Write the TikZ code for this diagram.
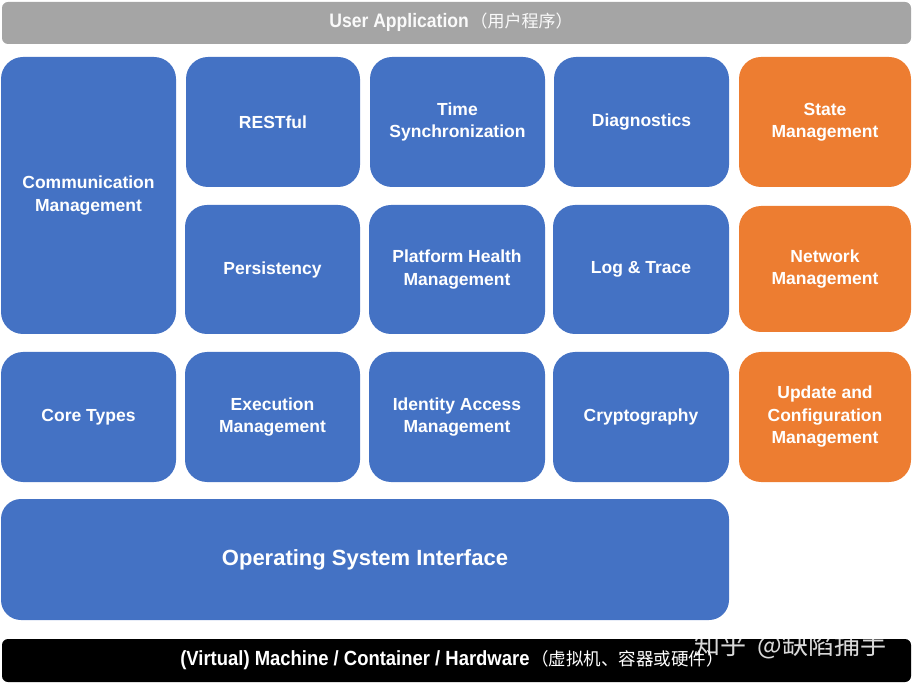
\documentclass[tikz,border=0pt]{standalone}
\usepackage{fontspec}
\setmainfont{Liberation Sans}
\newfontfamily\cjk{Noto Sans CJK SC}
\definecolor{abblue}{HTML}{4472C4}
\definecolor{aborange}{HTML}{ED7D31}
\definecolor{abgray}{HTML}{A5A5A5}
\begin{document}
\begin{tikzpicture}[x=1pt,y=-1pt,
  blk/.style={fill=abblue, rounded corners=22pt, text=white, align=center,
    font=\bfseries\fontsize{17.5}{22.5}\selectfont, inner sep=0pt},
  org/.style={blk, fill=aborange},
  bar/.style={rounded corners=6pt, inner sep=0pt}]
\useasboundingbox (0,0) rectangle (913,684);
% top bar
\node[bar, fill=abgray, minimum width=909pt, minimum height=42pt] (app) at (456.5,23) {};
\node[text=white!95!abgray, inner sep=0pt] (apptxt) at (451,22) {\scalebox{0.9}[1]{\bfseries\fontsize{19.5}{22}\selectfont User Application}\,{\cjk\fontsize{17}{20}\selectfont （用户程序）}};
% row 1-2
\node[blk, minimum width=175pt, minimum height=277pt] (comm) at (88.5,195.5) {Communication\\Management};
\node[blk, minimum width=174pt, minimum height=130pt] (rest) at (273,122) {RESTful};
\node[blk, minimum width=175pt, minimum height=130pt] (time) at (457.5,122) {Time\\Synchronization};
\node[blk, minimum width=175pt, minimum height=130pt] (diag) at (641.5,122) {Diagnostics};
\node[org, minimum width=172pt, minimum height=130pt] (state) at (825,122) {State\\Management};
\node[blk, minimum width=175pt, minimum height=129pt] (pers) at (272.5,269.5) {Persistency};
\node[blk, minimum width=176pt, minimum height=129pt] (phm) at (457,269.5) {Platform Health\\Management};
\node[blk, minimum width=176pt, minimum height=129pt] (log) at (641,269.5) {Log \& Trace};
\node[org, minimum width=172pt, minimum height=126pt] (net) at (825,269) {Network\\Management};
% row 3
\node[blk, minimum width=175pt, minimum height=130pt] (core) at (88.5,417) {Core Types};
\node[blk, minimum width=175pt, minimum height=130pt] (exec) at (272.5,417) {Execution\\Management};
\node[blk, minimum width=176pt, minimum height=130pt] (iam) at (457,417) {Identity Access\\Management};
\node[blk, minimum width=176pt, minimum height=130pt] (crypto) at (641,417) {Cryptography};
\node[org, minimum width=172pt, minimum height=130pt] (upd) at (825,417) {Update and\\Configuration\\Management};
% OS interface
\node[blk, rounded corners=20pt, minimum width=728pt, minimum height=121pt, font=\bfseries\fontsize{22}{26}\selectfont] (os) at (365,559.5) {Operating System Interface};
% bottom bar
\node[bar, fill=black, minimum width=909pt, minimum height=43pt] (hw) at (456.5,660.5) {};
\node[text=white, inner sep=0pt] (hwtxt) at (452,660) {\scalebox{0.9}[1]{\bfseries\fontsize{20.5}{23}\selectfont (Virtual) Machine / Container / Hardware}\,{\cjk\fontsize{17.5}{20}\selectfont （虚拟机、容器或硬件）}};
% watermark
\node[text=white, opacity=0.85, inner sep=0pt, anchor=west] (wm) at (694,646) {\cjk\fontsize{26}{28}\selectfont 知乎\ \ @缺陷捕手};
\end{tikzpicture}
\end{document}
